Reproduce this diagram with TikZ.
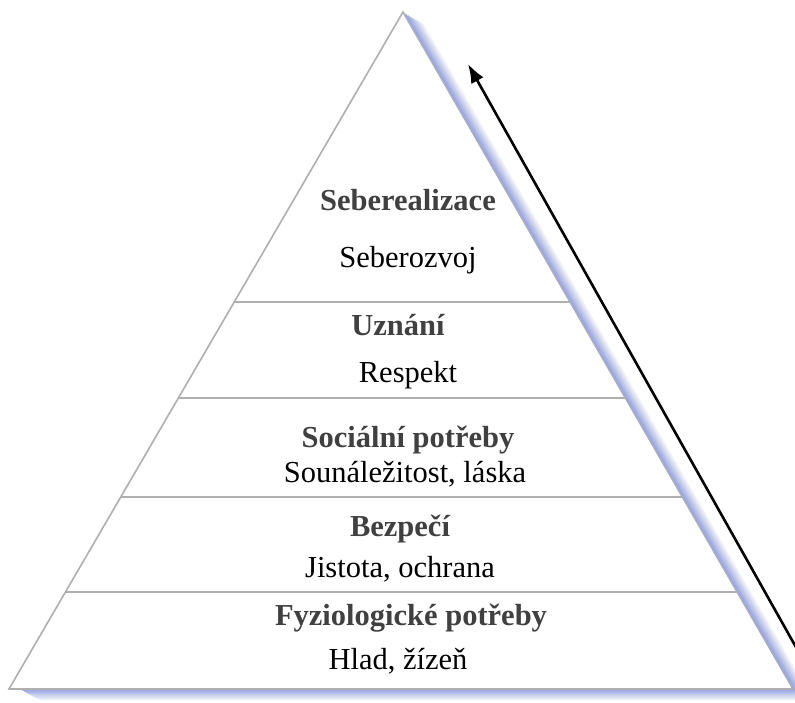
\documentclass[tikz,border=0pt]{standalone}
\usepackage{fontspec}
\setmainfont{Liberation Serif}
\usetikzlibrary{arrows.meta}
\definecolor{shade}{RGB}{140,155,222}
\definecolor{edge}{RGB}{175,175,175}
\definecolor{boldtxt}{RGB}{64,64,64}
\tikzset{
  level/.style={draw=edge, line width=2.2pt},
  title/.style={font=\fontsize{30.5}{36}\selectfont\bfseries, text=boldtxt, inner sep=0pt, anchor=base},
  sub/.style={font=\fontsize{30.5}{36}\selectfont, text=black, inner sep=0pt, anchor=base},
}
\begin{document}
\begin{tikzpicture}[x=1pt,y=-1pt]
\useasboundingbox (0,0) rectangle (795,702);
\clip (0,0) rectangle (795,702);
\fill[white] (0,0) rectangle (795,702);
% shadow: solid layers, lightest (outermost) first
\foreach \i in {12,11,...,1}{
  \pgfmathsetmacro{\p}{100-7.5*\i}
  \fill[shade!\p!white] ({403+1.7*\i},{12+0.95*\i}) -- ({9+1.7*\i+10},{689+0.95*\i}) -- ({793+1.7*\i},{689+0.95*\i}) -- cycle;
}
% pyramid
\coordinate (apex) at (403,12);
\coordinate (bl) at (9,689);
\coordinate (br) at (793,689);
\fill[white] (apex) -- (bl) -- (br) -- cycle;
% level lines
\foreach \y [count=\k] in {302,398,497,592}{
  \pgfmathsetmacro{\t}{(\y-12)/677}
  \coordinate (l\k) at ({403-394*\t},\y);
  \coordinate (r\k) at ({403+390*\t},\y);
  \draw[level] (l\k) -- (r\k);
}
\draw[edge, line width=1.6pt, line join=miter] (apex) -- (bl) -- (br) -- cycle;
% texts
\node[title] (t1) at (408,210) {Seberealizace};
\node[sub]   (s1) at (408,267) {Seberozvoj};
\node[title] (t2) at (398,335) {Uznání};
\node[sub]   (s2) at (408,382) {Respekt};
\node[title] (t3) at (408,447) {Sociální potřeby};
\node[sub]   (s3) at (405,482) {Sounáležitost, láska};
\node[title] (t4) at (400,536) {Bezpečí};
\node[sub]   (s4) at (400,577) {Jistota, ochrana};
\node[title] (t5) at (411,625) {Fyziologické potřeby};
\node[sub]   (s5) at (398,669) {Hlad, žízeň};
% arrow
\coordinate (atail) at (806,665);
\coordinate (ahead) at (468,64);
\draw[line width=2.6pt, -{Latex[length=19pt,width=14pt]}] (atail) -- (ahead);
\end{tikzpicture}
\end{document}
